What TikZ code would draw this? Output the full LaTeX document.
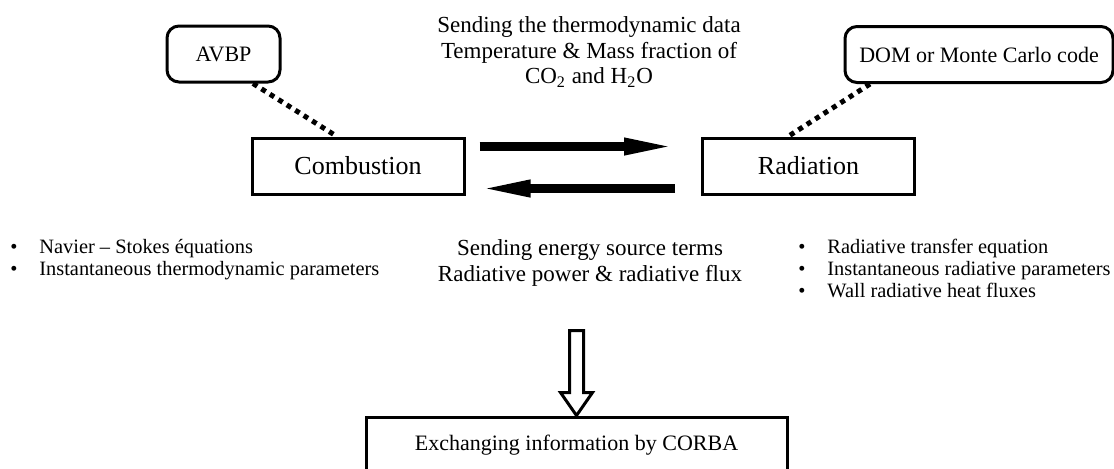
\documentclass[tikz,border=0pt]{standalone}
\usepackage{fontspec}
\setmainfont{Liberation Serif}
\usetikzlibrary{arrows.meta}
\newcommand{\bitem}[1]{\makebox[14.5pt][l]{\textbullet}#1}

\begin{document}
\begin{tikzpicture}[x=0.5pt,y=-0.5pt,
  blok/.style={draw,line width=1.5pt,rectangle,minimum width=106pt,minimum height=28pt,font=\fontsize{13}{15}\selectfont},
  rbox/.style={draw,line width=1.5pt,rectangle,rounded corners=6pt,minimum height=28pt,font=\fontsize{11}{13}\selectfont},
  txt/.style={align=center,inner sep=0pt,font=\fontsize{11.5}{12.75}\selectfont},
  lst/.style={align=left,inner sep=0pt,anchor=north west,font=\fontsize{10.2}{11}\selectfont},
  dots/.style={line width=2.5pt,dash pattern=on 2.5pt off 2.5pt},
  fat/.style={line width=4.5pt,-{Triangle[length=27.5pt,width=7.5pt]}}]
\useasboundingbox (0,0) rectangle (1114,468);
\clip (0,0) rectangle (1114,468);

\node[rbox,minimum width=56.5pt] (avbp) at (223.5,54) {AVBP};
\node[rbox,minimum width=134pt] (dom) at (979,54.5) {DOM or Monte Carlo code};
\node[blok] (comb) at (358,166) {Combustion};
\node[blok] (rad) at (808.5,166) {Radiation};
\node[blok,minimum width=210.5pt,font=\fontsize{11}{13}\selectfont] (corba) at (576.5,445) {Exchanging information by CORBA};

\node[txt] (send) at (589,52) {Sending the thermodynamic data\\Temperature \& Mass fraction of\\CO\textsubscript{2} and H\textsubscript{2}O};
\node[txt] (back) at (590,263) {Sending energy source terms\\Radiative power \& radiative flux};
\node[lst] (lcomb) at (10,239) {\bitem{Navier – Stokes équations}\\\bitem{Instantaneous thermodynamic parameters}};
\node[lst] (lrad) at (798,239) {\bitem{Radiative transfer equation}\\\bitem{Instantaneous radiative parameters}\\\bitem{Wall radiative heat fluxes}};

\draw[dots] ([xshift=14.75pt]avbp.south) -- ([xshift=-10.5pt]comb.north);
\draw[dots] ([xshift=-54.5pt]dom.south) -- ([xshift=-10.25pt]rad.north);

\draw[fat] ([yshift=9.75pt,xshift=7pt]comb.east) -- ([yshift=9.75pt,xshift=-11pt]rad.west);
\draw[fat] ([yshift=-11.25pt,xshift=-13pt]rad.west) -- ([yshift=-11.25pt,xshift=5pt]comb.east);

\draw[line width=1.5pt,line join=miter] (corba.north) -- ++(-16,-23) -- ++(9,0) -- ++(0,-62) -- ++(14,0) -- ++(0,62) -- ++(9,0) -- cycle;
\end{tikzpicture}
\end{document}
